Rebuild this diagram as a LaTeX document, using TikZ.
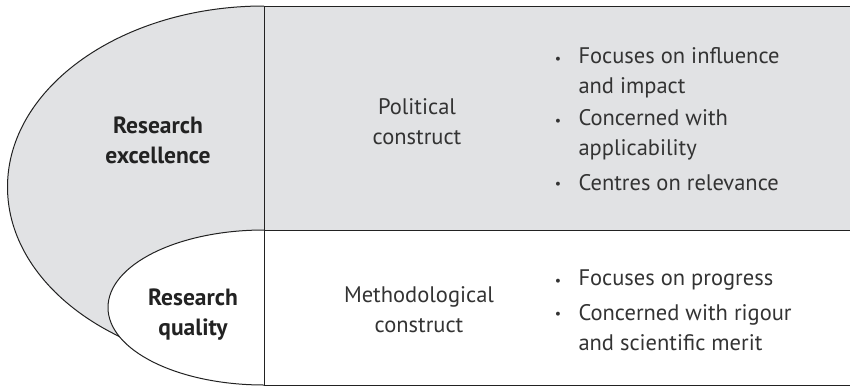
\documentclass[tikz,border=0pt]{standalone}
\usepackage{fontspec}
\setmainfont{PT Sans}
\definecolor{fillg}{HTML}{E1E2E4}
\definecolor{txt}{HTML}{333333}
\definecolor{ln}{HTML}{222222}
\begin{document}
\begin{tikzpicture}[x=1pt,y=-1pt,line width=1pt,line join=round,
  body/.style={font=\fontsize{22.5}{30}\selectfont,text=txt,inner sep=0pt},
  head/.style={font=\fontsize{23.5}{30}\selectfont\bfseries,text=ln,inner sep=0pt,align=center},
  mid/.style={body,align=center},
  item/.style={body,align=left,anchor=west},
  bul/.style={font=\fontsize{14}{14}\selectfont,text=txt,inner sep=0pt,anchor=center}]
\useasboundingbox (0,0) rectangle (850,388);
\fill[fillg] (264,6) rectangle (850,230);
\filldraw[fill=fillg,draw=ln] (264,6) arc[start angle=270,end angle=90,x radius=256.5,y radius=181];
\filldraw[fill=white,draw=ln] (264,230) arc[start angle=270,end angle=90,x radius=156,y radius=77.5];
\draw[ln] (264,6) -- (850,6);
\draw[ln] (264,230) -- (850,230);
\draw[ln] (264,385) -- (850,385);
\draw[ln] (264,6) -- (264,385);
\node[head] (exc) at (158,140) {Research\\excellence};
\node[head] (qual) at (193,315) {Research\\quality};
\node[mid] (pol) at (417,122) {Political\\construct};
\node[mid] (met) at (419,310) {Methodological\\construct};
\node[bul] (b1) at (558,60) {•};
\node[item] (i1) at (578,73) {Focuses on influence\\and impact};
\node[bul] (b2) at (558,122) {•};
\node[item] (i2) at (578,135) {Concerned with\\applicability};
\node[bul] (b3) at (558,185) {•};
\node[item] (i3) at (578,183) {Centres on relevance};
\node[bul] (b4) at (558,282) {•};
\node[item] (i4) at (578,280) {Focuses on progress};
\node[bul] (b5) at (558,315) {•};
\node[item] (i5) at (578,328) {Concerned with rigour\\and scientific merit};
\end{tikzpicture}
\end{document}
